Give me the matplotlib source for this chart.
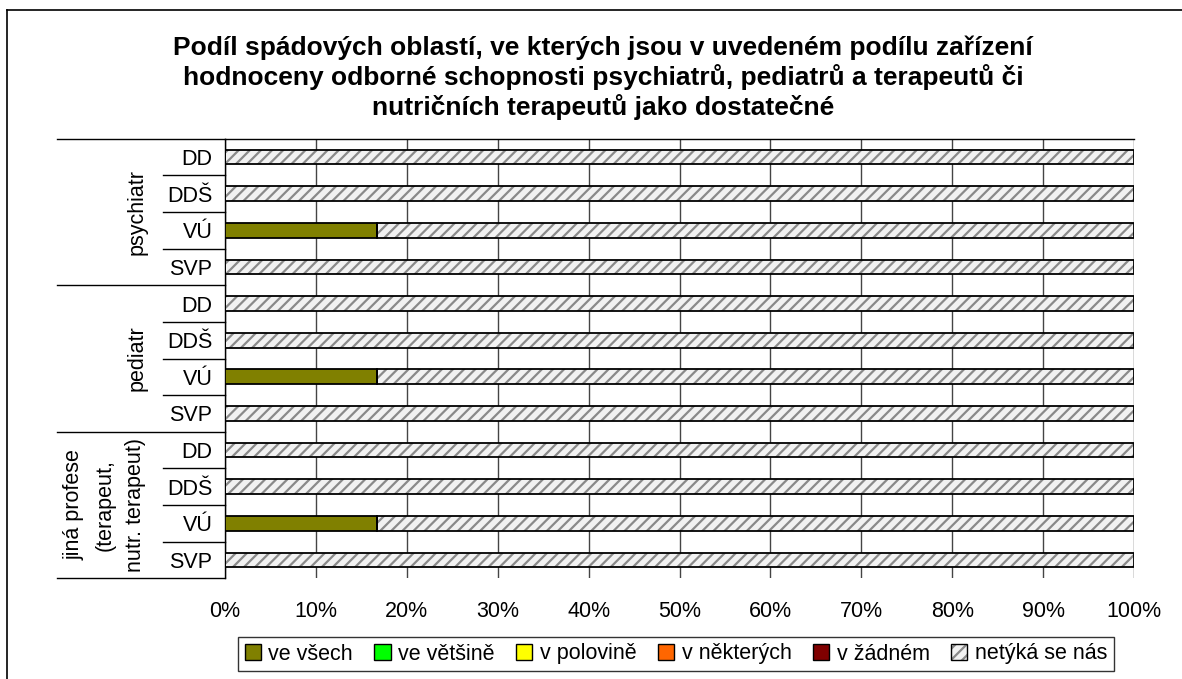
import numpy as np
import matplotlib.pyplot as plt
from matplotlib.patches import Patch
from matplotlib.lines import Line2D
import matplotlib.transforms as mtransforms

plt.rcParams['font.family'] = ['Liberation Sans', 'DejaVu Sans']
plt.rcParams['hatch.linewidth'] = 1.6

title = ("Podíl spádových oblastí, ve kterých jsou v uvedeném podílu zařízení\n"
         "hodnoceny odborné schopnosti psychiatrů, pediatrů a terapeutů či\n"
         "nutričních terapeutů jako dostatečné")

groups = ["psychiatr", "pediatr", "jiná profese\n(terapeut,\nnutr. terapeut)"]
facilities = ["DD", "DDŠ", "VÚ", "SVP"]
series = ["ve všech", "ve většině", "v polovině", "v některých", "v žádném", "netýká se nás"]
colors = ["#808000", "#00ff00", "#ffff00", "#ff6600", "#800000", "#f2f2f2"]
hatch_gray = "#8a8a8a"

# shares in %, one row per (group, facility)
ve_vsech    = [0, 0, 16.7, 0,  0, 0, 16.7, 0,  0, 0, 16.7, 0]
ve_vetsine  = [0] * 12
v_polovine  = [0] * 12
v_nekterych = [0] * 12
v_zadnem    = [0] * 12
netyka      = [100, 100, 83.3, 100,  100, 100, 83.3, 100,  100, 100, 83.3, 100]
values = [ve_vsech, ve_vetsine, v_polovine, v_nekterych, v_zadnem, netyka]

labels = facilities * len(groups)
n = len(labels)
y = np.arange(n)

fig = plt.figure(figsize=(11.82, 6.79), dpi=100)
ax = fig.add_axes([225 / 1182, 1 - 578.3 / 679, 909 / 1182, 439.6 / 679])

left = np.zeros(n)
for name, vals, c in zip(series, values, colors):
    vals = np.array(vals, dtype=float)
    if name == "netýká se nás":
        # gray hatch first, black outline on top
        ax.barh(y, vals, left=left, height=0.4, color=c, edgecolor=hatch_gray,
                linewidth=0, hatch="///", zorder=3)
        ax.barh(y, vals, left=left, height=0.4, fill=False, edgecolor="black",
                linewidth=1.3, zorder=4)
    else:
        ax.barh(y, vals, left=left, height=0.4, color=c, edgecolor="black",
                linewidth=1.3, zorder=4)
    left += vals

ax.set_xlim(0, 100)
ax.set_ylim(n - 0.5, -0.5)
ax.set_xticks(np.arange(0, 101, 10))
ax.set_xticklabels([f"{v}%" for v in range(0, 101, 10)], fontsize=15.5)
ax.set_yticks(y)
ax.set_yticklabels(labels, fontsize=15.5)
ax.tick_params(axis="x", length=0, pad=16)
ax.tick_params(axis="y", length=0, pad=9)
ax.grid(axis="x", color="#444444", linewidth=1.0, zorder=0)
for s in ["right", "bottom"]:
    ax.spines[s].set_visible(False)
ax.spines["top"].set_linewidth(1.0)
ax.spines["left"].set_linewidth(1.0)
ax.spines["left"].set_color("black")

# category separators on the left
tr = mtransforms.blended_transform_factory(ax.transAxes, ax.transData)
for b in np.arange(-0.5, n, 1.0):
    if (b + 0.5) % 4 == 0:
        x0 = (57 - 225) / 909
    else:
        x0 = (163 - 225) / 909
    ax.add_line(Line2D([x0, 0], [b, b], transform=tr, color="black",
                       linewidth=1.0, clip_on=False))

group_x = [(137 - 225) / 909, (137 - 225) / 909, (105 - 225) / 909]
for i, g in enumerate(groups):
    ax.text(group_x[i], 4 * i + 1.5, g, transform=tr, rotation=90,
            ha="center", va="center", multialignment="center", fontsize=15.5,
            linespacing=1.6)

fig.text(603 / 1182, 1 - 78 / 679, title, ha="center", va="center", fontsize=19,
         fontweight="bold", linespacing=1.2)

handles = []
for s, c in zip(series, colors):
    if s == "netýká se nás":
        handles.append((Patch(facecolor=c, edgecolor=hatch_gray, linewidth=0, hatch="///"),
                        Patch(fill=False, edgecolor="black")))
    else:
        handles.append(Patch(facecolor=c, edgecolor="black"))
leg = fig.legend(handles, series, loc="center", bbox_to_anchor=(676 / 1182, 1 - 654 / 679),
                 ncol=6, fontsize=15.5, frameon=True, fancybox=False, edgecolor="black",
                 handlelength=0.75, handleheight=0.75, handletextpad=0.35,
                 columnspacing=1.0, borderpad=0.3)
leg.get_frame().set_linewidth(1.0)

# figure border (top and left)
fig.add_artist(Line2D([7 / 1182, 1], [1 - 10 / 679, 1 - 10 / 679], color="black",
                      linewidth=1.2, transform=fig.transFigure))
fig.add_artist(Line2D([7 / 1182, 7 / 1182], [0, 1 - 10 / 679], color="black",
                      linewidth=1.2, transform=fig.transFigure))

fig.savefig("out.png", dpi=100)
